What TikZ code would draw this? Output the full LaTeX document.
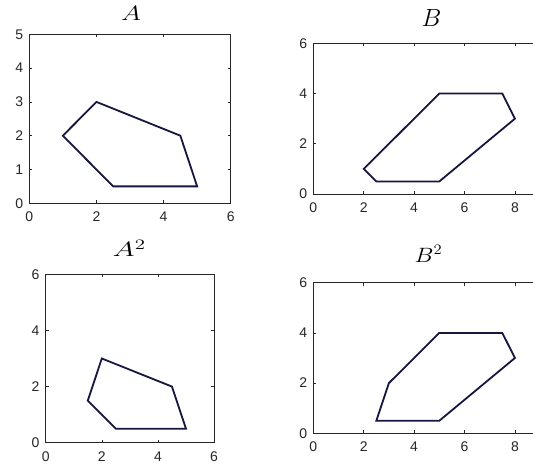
\documentclass[tikz,border=0pt]{standalone}
\usepackage{graphicx}
\usepackage{fontspec}
\newfontfamily\tickfont{Liberation Sans}
\begin{document}
\begin{tikzpicture}[x=1pt,y=-1pt,
  frame/.style={line width=0.8pt,draw=black!85},
  tck/.style={line width=0.6pt,draw=black!85},
  poly/.style={line width=1.8pt,draw={rgb,255:red,22;green,22;blue,62},line join=miter},
  ticklab/.style={font=\tickfont\fontsize{14}{14}\selectfont,text=black!85,inner sep=0pt},
  ttl/.style={inner sep=0pt,anchor=base west}]
\useasboundingbox (0,0) rectangle (533,468);
\clip (0,0) rectangle (533,468);
\fill[white] (0,0) rectangle (533,468);

% ---------- Panel A ----------
\node[ttl,font=\fontsize{20.5}{20.5}\selectfont] (tA) at (121,20.7) {\scalebox{1.3}[1]{$A$}};
\begin{scope}[shift={(29.3,203.3)},x=33.57pt,y=33.8pt]
  \draw[frame] (0,0) rectangle (6,5);
  \foreach \i in {2,4} {
    \draw[tck] (\i,0) -- ++(0,3pt);
    \draw[tck] (\i,5) -- ++(0,-3pt);
  }
  \foreach \j in {1,2,3,4} {
    \draw[tck] (0,\j) -- ++(3pt,0);
    \draw[tck] (6,\j) -- ++(-3pt,0);
  }
  \foreach \i in {0,2,4,6}
    \node[ticklab] (Axl\i) at ([yshift=-13.5pt]\i,0) {\i};
  \foreach \j in {0,...,5}
    \node[ticklab,anchor=east] (Ayl\j) at ([xshift=-6pt]0,\j) {\j};
  \draw[poly] (1,2) -- (2,3) -- (4.5,2) -- (5,0.5) -- (2.5,0.5) -- cycle;
\end{scope}

% ---------- Panel B ----------
\node[ttl,font=\fontsize{24}{24}\selectfont] (tB) at (421.5,26.7) {$B$};
\begin{scope}[shift={(313.3,194)},x=25.2pt,y=25.1pt]
  \draw[frame] (0,0) rectangle (9,6);
  \foreach \i in {2,4,6,8} {
    \draw[tck] (\i,0) -- ++(0,3pt);
    \draw[tck] (\i,6) -- ++(0,-3pt);
  }
  \foreach \j in {2,4} {
    \draw[tck] (0,\j) -- ++(3pt,0);
  }
  \foreach \i in {0,2,4,6,8}
    \node[ticklab] (Bxl\i) at ([yshift=-13.5pt]\i,0) {\i};
  \foreach \j in {0,2,4,6}
    \node[ticklab,anchor=east] (Byl\j) at ([xshift=-6pt]0,\j) {\j};
  \draw[poly] (2,1) -- (5,4) -- (7.5,4) -- (8,3) -- (5,0.5) -- (2.5,0.5) -- cycle;
\end{scope}

% ---------- Panel A^2 ----------
\node[ttl,font=\fontsize{19.5}{19.5}\selectfont] (tA2) at (112.5,256.7) {\scalebox{1.45}[1]{$A^2$}};
\begin{scope}[shift={(45.7,442.7)},x=28.05pt,y=28.07pt]
  \draw[frame] (0,0) rectangle (6,6);
  \foreach \i in {2,4} {
    \draw[tck] (\i,0) -- ++(0,3pt);
    \draw[tck] (\i,6) -- ++(0,-3pt);
    \draw[tck] (0,\i) -- ++(3pt,0);
    \draw[tck] (6,\i) -- ++(-3pt,0);
  }
  \foreach \i in {0,2,4,6}
    \node[ticklab] (Cxl\i) at ([yshift=-13.5pt]\i,0) {\i};
  \foreach \j in {0,2,4,6}
    \node[ticklab,anchor=east] (Cyl\j) at ([xshift=-6pt]0,\j) {\j};
  \draw[poly] (1.5,1.5) -- (2,3) -- (4.5,2) -- (5,0.5) -- (2.5,0.5) -- cycle;
\end{scope}

% ---------- Panel B^2 ----------
\node[ttl,font=\fontsize{21}{21}\selectfont] (tB2) at (414.5,262) {\scalebox{1.15}[1]{$B^2$}};
\begin{scope}[shift={(313.3,433.3)},x=25.2pt,y=25.1pt]
  \draw[frame] (0,0) rectangle (9,6);
  \foreach \i in {2,4,6,8} {
    \draw[tck] (\i,0) -- ++(0,3pt);
    \draw[tck] (\i,6) -- ++(0,-3pt);
  }
  \foreach \j in {2,4} {
    \draw[tck] (0,\j) -- ++(3pt,0);
  }
  \foreach \i in {0,2,4,6,8}
    \node[ticklab] (Dxl\i) at ([yshift=-13.5pt]\i,0) {\i};
  \foreach \j in {0,2,4,6}
    \node[ticklab,anchor=east] (Dyl\j) at ([xshift=-6pt]0,\j) {\j};
  \draw[poly] (2.5,0.5) -- (3,2) -- (5,4) -- (7.5,4) -- (8,3) -- (5,0.5) -- cycle;
\end{scope}
\end{tikzpicture}
\end{document}
